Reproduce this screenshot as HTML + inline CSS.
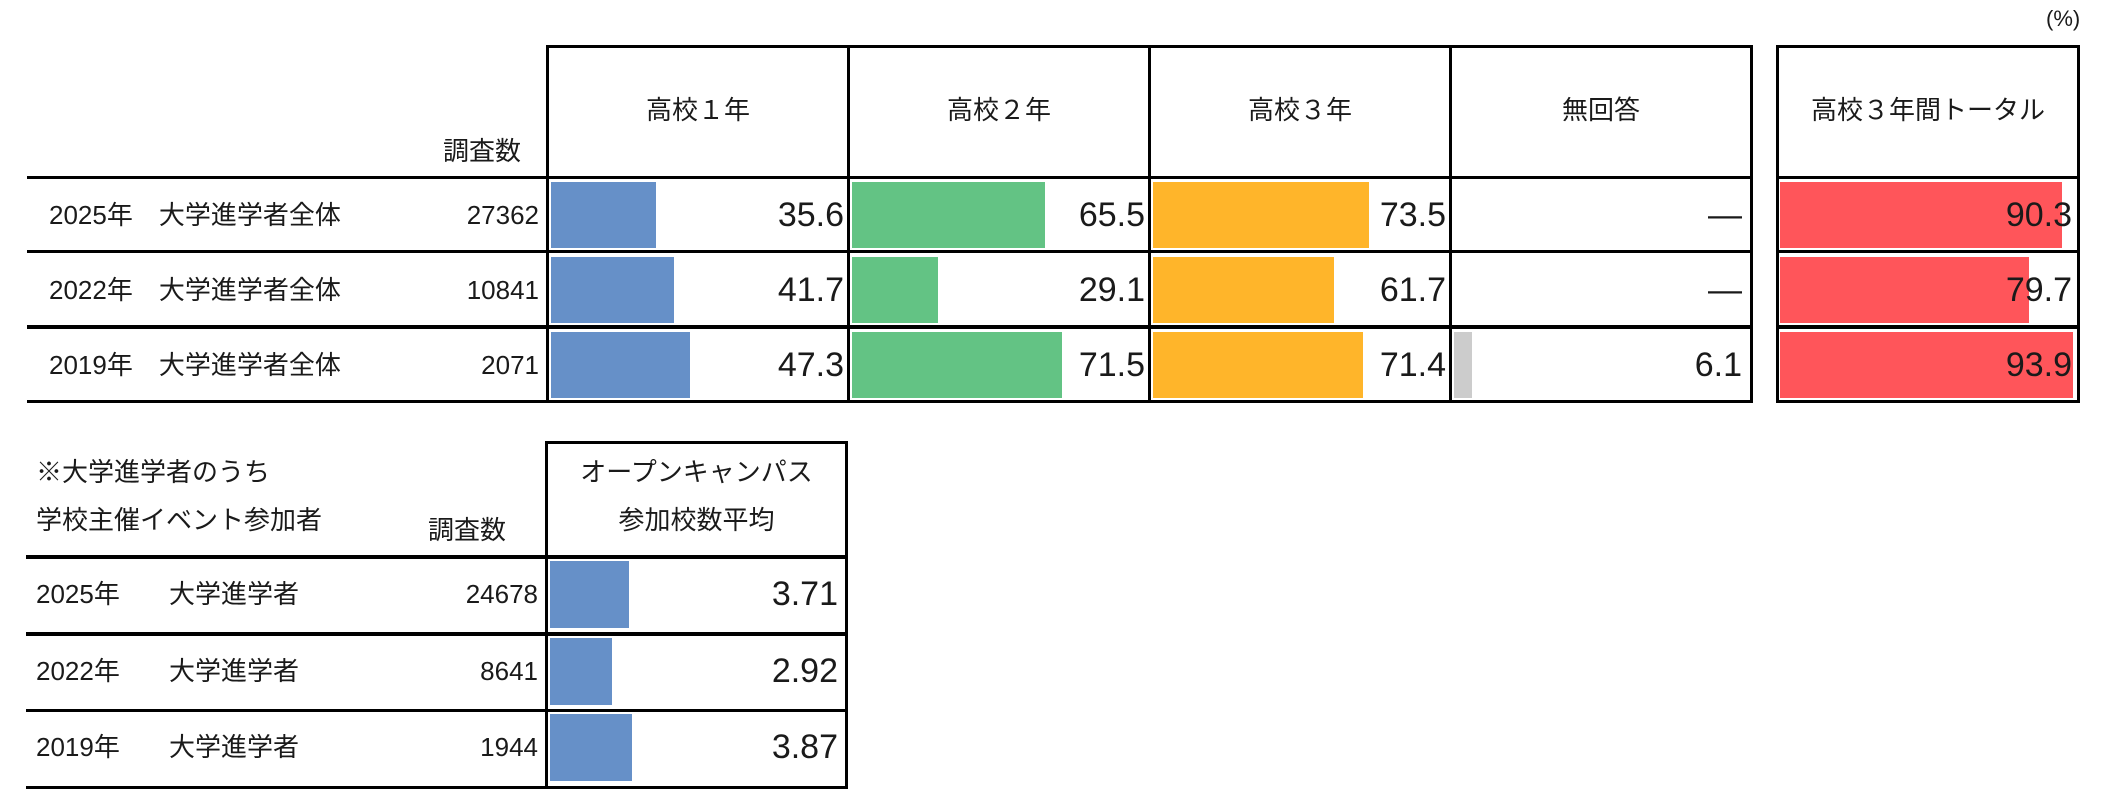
<!DOCTYPE html>
<html><head><meta charset="utf-8">
<style>
body{margin:0;width:2106px;height:805px;background:#fff;position:relative;overflow:hidden;font-family:"Liberation Sans","Noto Sans CJK JP",sans-serif;color:#1a1a1a}
.a{position:absolute}
.h{position:absolute;background:#000;height:3px}
.v{position:absolute;background:#000;width:3px}
.t{position:absolute;font-size:26px;white-space:nowrap;line-height:1}
.n{position:absolute;font-size:34px;white-space:nowrap;line-height:1;text-align:right}
.c{position:absolute;font-size:26px;white-space:nowrap;line-height:1;text-align:center}
</style></head><body>
<div class="t" style="left:2046px;top:8px;font-size:22px">(%)</div>

<!-- top table grid -->
<div class="h" style="left:546px;top:45px;width:1207px"></div>
<div class="h" style="left:27px;top:176px;width:1726px"></div>
<div class="h" style="left:27px;top:250px;width:1726px"></div>
<div class="h" style="left:27px;top:325px;width:1726px;height:4px"></div>
<div class="h" style="left:27px;top:400px;width:1726px"></div>
<div class="v" style="left:546px;top:45px;height:358px"></div>
<div class="v" style="left:847px;top:45px;height:358px"></div>
<div class="v" style="left:1148px;top:45px;height:358px"></div>
<div class="v" style="left:1449px;top:45px;height:358px"></div>
<div class="v" style="left:1750px;top:45px;height:358px"></div>
<!-- total box -->
<div class="h" style="left:1776px;top:45px;width:304px"></div>
<div class="h" style="left:1776px;top:176px;width:304px"></div>
<div class="h" style="left:1776px;top:250px;width:304px"></div>
<div class="h" style="left:1776px;top:325px;width:304px;height:4px"></div>
<div class="h" style="left:1776px;top:400px;width:304px"></div>
<div class="v" style="left:1776px;top:45px;height:358px"></div>
<div class="v" style="left:2077px;top:45px;height:358px"></div>

<div class="c" style="left:549px;width:298px;top:97px">高校１年</div>
<div class="c" style="left:850px;width:298px;top:97px">高校２年</div>
<div class="c" style="left:1151px;width:298px;top:97px">高校３年</div>
<div class="c" style="left:1452px;width:298px;top:97px">無回答</div>
<div class="c" style="left:1779px;width:298px;top:97px">高校３年間トータル</div>
<div class="t" style="left:443px;top:138px">調査数</div>

<!-- bottom table grid -->
<div class="h" style="left:546px;top:441px;width:302px"></div>
<div class="h" style="left:26px;top:555px;width:822px;height:4px"></div>
<div class="h" style="left:26px;top:632px;width:822px;height:4px"></div>
<div class="h" style="left:26px;top:709px;width:822px"></div>
<div class="h" style="left:26px;top:786px;width:822px"></div>
<div class="v" style="left:545px;top:441px;height:348px"></div>
<div class="v" style="left:845px;top:441px;height:348px"></div>
<div class="t" style="left:36px;top:459px">※大学進学者のうち</div>
<div class="t" style="left:36px;top:507px">学校主催イベント参加者</div>
<div class="t" style="left:428px;top:517px">調査数</div>
<div class="c" style="left:548px;width:297px;top:459px">オープンキャンパス</div>
<div class="c" style="left:548px;width:297px;top:507px">参加校数平均</div>

<div id="root"></div>
<script>
const years = ["2025年","2022年","2019年"];
const sampleTop = ["27362","10841","2071"];
const grade1 = [35.6,41.7,47.3];
const grade2 = [65.5,29.1,71.5];
const grade3 = [73.5,61.7,71.4];
const noAnswer = [null,null,6.1];
const total = [90.3,79.7,93.9];
const sampleBottom = ["24678","8641","1944"];
const ocAvg = [3.71,2.92,3.87];

const root=document.getElementById('root');
function mk(cls,style,text){const d=document.createElement('div');d.className=cls;d.style.cssText=style;if(text!==undefined)d.textContent=text;root.appendChild(d);return d;}
const rowTop=[251,327,402-75];
const rowsT=[180,255,330];
const pxPerPct=2.94, pxPerPctTotal=3.12;
function barCol(vals,x0,colRight,color,scale,key){
  vals.forEach((v,i)=>{
    if(v!==null){
      const b=mk('a',`left:${x0}px;top:${rowsT[i]+2}px;height:66px;width:${v*scale}px;background:${color}`);
      
      
    }
    const t=mk('n',`left:${colRight-200}px;width:200px;top:${rowsT[i]+18}px`, v===null?'—':v.toFixed(1));
    
    
  });
}
years.forEach((y,i)=>{
  const a=mk('t',`left:49px;top:${rowsT[i]+22}px`,y+'　大学進学者全体');
  
  
  const s=mk('t',`left:339px;width:200px;text-align:right;top:${rowsT[i]+22}px`,sampleTop[i]);
  
  
});
barCol(grade1,551,844,'#6690C8',pxPerPct,'grade1');
barCol(grade2,852,1145,'#63C384',pxPerPct,'grade2');
barCol(grade3,1153,1446,'#FFB52A',pxPerPct,'grade3');
barCol(noAnswer,1454,1742,'#ccc',pxPerPct,'noanswer');
barCol(total,1780,2072,'#FF555A',pxPerPctTotal,'total');

const rowsB=[559,636,712];
const pxPerUnit=21.2;
years.forEach((y,i)=>{
  const a=mk('t',`left:36px;top:${rowsB[i]+22}px`,y);
  
  
  const b=mk('t',`left:169px;top:${rowsB[i]+22}px`,'大学進学者');
  
  
  const s=mk('t',`left:338px;width:200px;text-align:right;top:${rowsB[i]+22}px`,sampleBottom[i]);
  
  
  const bar=mk('a',`left:550px;top:${rowsB[i]+2}px;height:67px;width:${ocAvg[i]*pxPerUnit}px;background:#6690C8`);
  
  
  const v=mk('n',`left:638px;width:200px;top:${rowsB[i]+18}px`,ocAvg[i].toFixed(2));
  
  
});
</script>
</body></html>
